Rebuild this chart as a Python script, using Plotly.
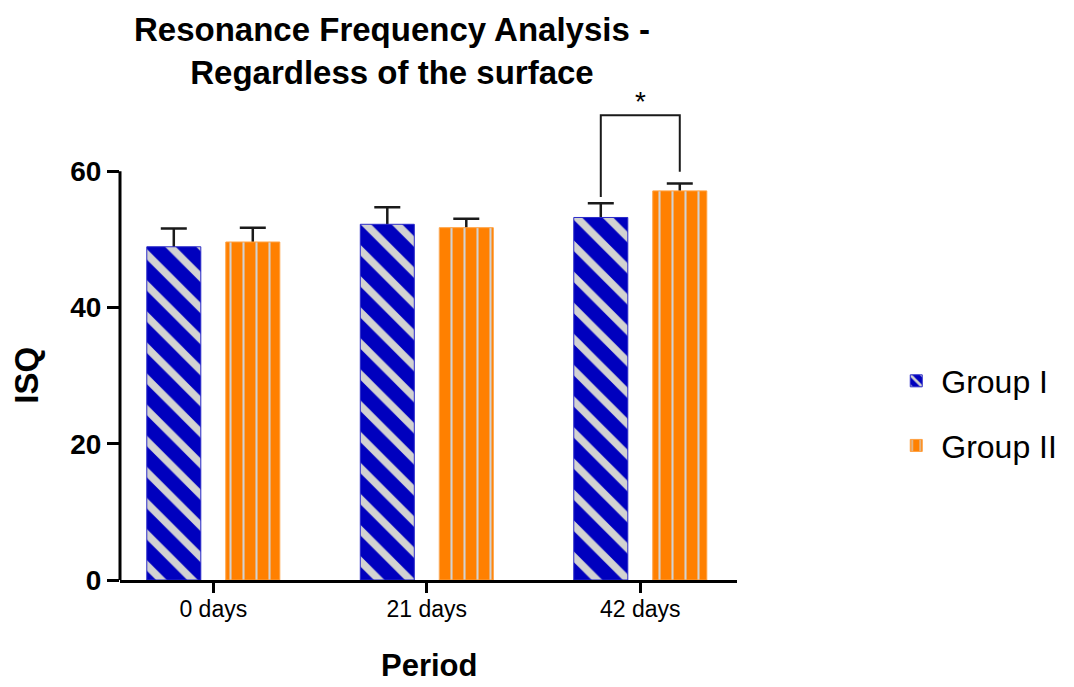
import plotly.graph_objects as go

categories = ["0 days", "21 days", "42 days"]
group1_mean = [48.9, 52.2, 53.2]
group1_err = [2.7, 2.5, 2.1]
group2_mean = [49.6, 51.7, 57.1]
group2_err = [2.1, 1.3, 1.1]
series_names = ["Group I", "Group II"]
y_ticks = [0, 20, 40, 60]
sig_label = "*"
bracket_levels = [56.2, 68.2, 59.9]  # left foot, top, right foot

BAR_W = 0.253
OFF = 0.185
BLUE = "#0000BE"
ORANGE = "#FF8000"
STRIPE = "#D2D2D2"
FONT = "Arial, Liberation Sans, sans-serif"

fig = go.Figure()

# hidden bars carrying error bars (drawn under the real bars so only the upper half shows)
for means, errs, off in [(group1_mean, group1_err, -OFF), (group2_mean, group2_err, OFF)]:
    fig.add_trace(go.Bar(
        x=categories, y=means, width=BAR_W, offset=off - BAR_W / 2,
        marker=dict(color="rgba(0,0,0,0)", line=dict(width=0)),
        error_y=dict(type="data", array=errs, visible=True, color="#1a1a1a",
                     thickness=2.5, width=13),
        showlegend=False, hoverinfo="skip"))

fig.add_trace(go.Bar(
    x=categories, y=group1_mean, width=BAR_W, offset=-OFF - BAR_W / 2,
    name=series_names[0], legendgroup="g1",
    marker=dict(color=BLUE, line=dict(color="#2a2ac8", width=1),
                pattern=dict(shape="\\", fgcolor=STRIPE, bgcolor=BLUE, fgopacity=1,
                             size=22, solidity=0.34, fillmode="overlay"))))
fig.add_trace(go.Bar(
    x=categories, y=group2_mean, width=BAR_W, offset=OFF - BAR_W / 2,
    name=series_names[1], legendgroup="g2",
    marker=dict(color=ORANGE, line=dict(color="#FFA040", width=1),
                pattern=dict(shape="|", fgcolor=STRIPE, bgcolor=ORANGE, fgopacity=1,
                             size=13, solidity=0.16, fillmode="overlay"))))

# y axis line only up to 60
fig.add_shape(type="line", xref="paper", yref="y", x0=0, x1=0,
              y0=y_ticks[0], y1=y_ticks[-1], line=dict(color="black", width=3))

# significance bracket
xl = 2 - OFF
xr = 2 + OFF
fig.add_shape(type="path", xref="x", yref="y",
              path=f"M {xl},{bracket_levels[0]} L {xl},{bracket_levels[1]} L {xr},{bracket_levels[1]} L {xr},{bracket_levels[2]}",
              line=dict(color="#1a1a1a", width=2))
fig.add_annotation(x=2, y=bracket_levels[1], xref="x", yref="y", text=sig_label,
                   showarrow=False, yanchor="bottom", yshift=-4,
                   font=dict(family=FONT, size=28, color="black"))

# title
fig.add_annotation(x=0.4408, y=1.198, xref="paper", yref="paper",
                   xanchor="center", yanchor="top", showarrow=False,
                   text="<b>Resonance Frequency Analysis -<br>Regardless of the surface</b>",
                   font=dict(family=FONT, size=33, color="black"))

# y axis title, centred on the 0-60 axis line
fig.add_annotation(x=-0.152, y=(y_ticks[0] + y_ticks[-1]) / 2, xref="paper", yref="y",
                   xanchor="center", yanchor="middle", showarrow=False, textangle=-90,
                   text="<b>ISQ</b>", font=dict(family=FONT, size=33, color="black"))

# x axis title
fig.add_annotation(x=0.5, y=-0.18, xref="paper", yref="paper",
                   xanchor="center", yanchor="middle", showarrow=False, borderpad=0,
                   text="<b>Period</b>", font=dict(family=FONT, size=31, color="black"))

fig.update_layout(
    width=1066, height=679,
    barmode="overlay",
    plot_bgcolor="white", paper_bgcolor="white",
    margin=dict(l=112, r=337, t=95, b=107),
    font=dict(family=FONT, color="black"),
    xaxis=dict(range=[-0.437, 2.453], showline=True, linewidth=3, linecolor="black",
               ticks="outside", ticklen=10, tickwidth=3, tickcolor="black",
               ticklabelstandoff=-4,
               tickfont=dict(family=FONT, size=23, color="black"),
               showgrid=False, zeroline=False, automargin=False),
    yaxis=dict(range=[0, 70], showline=False, tickvals=y_ticks,
               ticks="outside", ticklen=12, tickwidth=3, tickcolor="black",
               tickfont=dict(family=FONT, size=28, color="black", weight="bold"),
               showgrid=False, zeroline=False, automargin=False),
    legend=dict(x=1.25, y=0.349, xanchor="left", yanchor="middle",
                font=dict(family=FONT, size=32, color="black"),
                traceorder="grouped", tracegroupgap=20, itemwidth=40),
)

fig.write_html("out.html")
